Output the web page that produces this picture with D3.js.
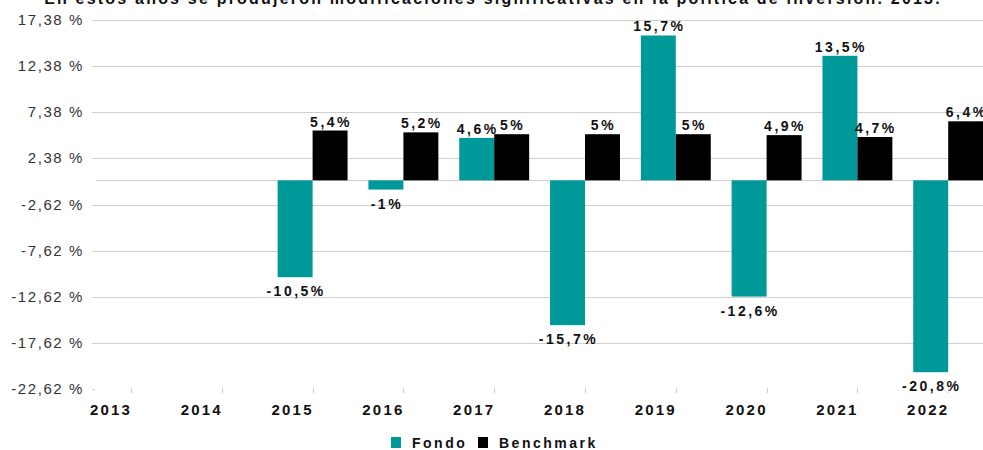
<!DOCTYPE html>
<html>
<head>
<meta charset="utf-8">
<script src="https://cdn.jsdelivr.net/npm/d3@7"></script>
<style>
  body { margin: 0; background: #fff; }
  svg { display: block; font-family: "Liberation Sans", Arial, sans-serif; }
  .grid line { stroke: #cfcfcf; stroke-width: 1; }
  .ylab { font-size: 15px; fill: #333; letter-spacing: 1.6px; }
  .bold { font-weight: bold; fill: #111; letter-spacing: 2.5px; }
</style>
</head>
<body>
<div id="chart"></div>
<script>
// data
var years = ["2013", "2014", "2015", "2016", "2017", "2018", "2019", "2020", "2021", "2022"];
var series = ["Fondo", "Benchmark"];
var fondo = [null, null, -10.5, -1, 4.6, -15.7, 15.7, -12.6, 13.5, -20.8];
var benchmark = [null, null, 5.4, 5.2, 5, 5, 5, 4.9, 4.7, 6.4];
var yTicks = [17.38, 12.38, 7.38, 2.38, -2.62, -7.62, -12.62, -17.62, -22.62];
var colors = {"Fondo": "#009999", "Benchmark": "#000000"};
var title = "En estos años se produjeron modificaciones significativas en la política de inversión. 2013.";

var width = 983, height = 450;

var svg = d3.select("#chart").append("svg")
    .attr("width", width)
    .attr("height", height);

// scales
var x = d3.scaleBand()
    .domain(years)
    .range([85.6, 993.6])
    .padding(0);

var y = d3.scaleLinear()
    .domain([-22.62, 17.38])
    .range([389, 20]);

var groupW = x.bandwidth() * 0.77;
var xSub = d3.scaleBand()
    .domain(series)
    .range([(x.bandwidth() - groupW) / 2, (x.bandwidth() + groupW) / 2]);

var fmt = function(v) { return String(v).replace(".", ","); };

// title (cut at top like the reference)
svg.append("text")
    .attr("class", "bold")
    .attr("x", 493)
    .attr("y", 4)
    .attr("text-anchor", "middle")
    .style("font-size", "16px")
    .style("letter-spacing", "2.2px")
    .text(title);

// grid
var grid = svg.append("g").attr("class", "grid");
grid.selectAll("line.g")
    .data(yTicks.slice(0, -1))
  .enter().append("line")
    .attr("x1", 92)
    .attr("x2", width)
    .attr("y1", function(d) { return Math.round(y(d)) + 0.5; })
    .attr("y2", function(d) { return Math.round(y(d)) + 0.5; });

// zero line
grid.append("line")
    .attr("x1", 96)
    .attr("x2", width)
    .attr("y1", Math.round(y(0)) + 0.5)
    .attr("y2", Math.round(y(0)) + 0.5);

// small bits on the bottom
grid.append("line")
    .attr("x1", 92).attr("x2", 95)
    .attr("y1", Math.round(y(-22.62)) + 0.5)
    .attr("y2", Math.round(y(-22.62)) + 0.5);

grid.selectAll("line.tick")
    .data(years)
  .enter().append("line")
    .attr("class", "tick")
    .attr("x1", function(d) { return Math.round(x(d) + x.bandwidth() / 2) + 0.5; })
    .attr("x2", function(d) { return Math.round(x(d) + x.bandwidth() / 2) + 0.5; })
    .attr("y1", 388)
    .attr("y2", 393);

// y labels
svg.selectAll("text.ylab")
    .data(yTicks)
  .enter().append("text")
    .attr("class", "ylab")
    .attr("x", 84)
    .attr("y", function(d) { return y(d) + 5; })
    .attr("text-anchor", "end")
    .text(function(d) { return d.toFixed(2).replace(".", ",") + " %"; });

// x labels
svg.selectAll("text.xlab")
    .data(years)
  .enter().append("text")
    .attr("class", "bold")
    .attr("x", function(d) { return x(d) + x.bandwidth() / 2 - 20; })
    .attr("y", 415)
    .attr("text-anchor", "middle")
    .style("font-size", "15px")
    .style("letter-spacing", "2.2px")
    .text(function(d) { return d; });

// bars
var rows = [];
years.forEach(function(yr, i) {
  if (fondo[i] !== null) rows.push({year: yr, key: "Fondo", value: fondo[i]});
  if (benchmark[i] !== null) rows.push({year: yr, key: "Benchmark", value: benchmark[i]});
});

var bars = svg.append("g");
bars.selectAll("rect")
    .data(rows)
  .enter().append("rect")
    .attr("x", function(d) { return x(d.year) + xSub(d.key); })
    .attr("width", xSub.bandwidth())
    .attr("y", function(d) { return y(Math.max(0, d.value)); })
    .attr("height", function(d) { return Math.abs(y(d.value) - y(0)); })
    .attr("fill", function(d) { return colors[d.key]; });

bars.selectAll("text")
    .data(rows)
  .enter().append("text")
    .attr("class", "bold")
    .attr("x", function(d) { return x(d.year) + xSub(d.key) + xSub.bandwidth() / 2 + 1; })
    .attr("y", function(d) { return d.value >= 0 ? y(d.value) - 4 : y(d.value) + 19; })
    .attr("text-anchor", "middle")
    .style("font-size", "14px")
    .text(function(d) { return fmt(d.value) + "%"; });

// legend
var legend = svg.append("g");
var lx = [391, 478];
series.forEach(function(s, i) {
  legend.append("rect")
    .attr("x", lx[i])
    .attr("y", 437)
    .attr("width", 10)
    .attr("height", 11)
    .attr("fill", colors[s]);
  legend.append("text")
    .attr("class", "bold")
    .attr("x", lx[i] + 21)
    .attr("y", 448)
    .style("font-size", "14px")
    .text(s);
});
</script>
</body>
</html>
